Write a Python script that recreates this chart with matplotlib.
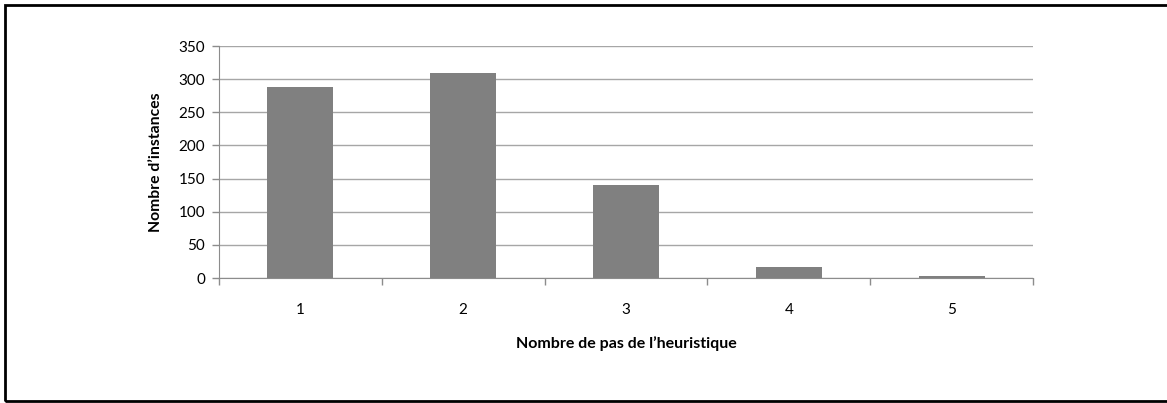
import matplotlib
matplotlib.use("Agg")
import matplotlib.pyplot as plt
from matplotlib.patches import Rectangle
import numpy as np

steps = ["1", "2", "3", "4", "5"]
instances = [288, 309, 141, 17, 3]
y_ticks = [0, 50, 100, 150, 200, 250, 300, 350]

plt.rcParams["font.family"] = ["Lato", "DejaVu Sans"]

W, H = 1167, 403
fig = plt.figure(figsize=(W / 100, H / 100), dpi=100)
ax = fig.add_axes([219 / W, 1 - 278 / H, (1033 - 219) / W, (278 - 46) / H])

x = np.arange(1, len(steps) + 1)
ax.bar(x, instances, width=0.405, color="#808080", zorder=3)

ax.set_xlim(0.5, len(steps) + 0.5)
ax.set_ylim(0, 350)
ax.set_yticks(y_ticks)
ax.yaxis.grid(True, color="#a6a6a6", linewidth=1.0, zorder=0)

# category boundaries carry the tick marks, labels sit at centres
ax.set_xticks(np.arange(0.5, len(steps) + 1, 1.0))
ax.set_xticklabels([])
ax.set_xticks(x, minor=True)
ax.set_xticklabels(steps, minor=True)
ax.tick_params(axis="x", which="major", length=5, color="#8c8c8c", width=1)
ax.tick_params(axis="x", which="minor", length=0, pad=18, labelsize=11)
ax.tick_params(axis="y", length=5, color="#8c8c8c", width=1, pad=5, labelsize=11)

for s in ["top", "right"]:
    ax.spines[s].set_visible(False)
for s in ["left", "bottom"]:
    ax.spines[s].set_color("#8c8c8c")

ax.set_xlabel("Nombre de pas de l\u2019heuristique", fontsize=11.5, fontweight="bold", labelpad=14)
ax.set_ylabel("Nombre d\u2019instances", fontsize=11.3, fontweight="bold", labelpad=11)

fig.patches.append(Rectangle((5 / W, 1 - 401 / H), (W + 5) / W, (401 - 5) / H,
                             transform=fig.transFigure, fill=False,
                             edgecolor="black", linewidth=2, zorder=10))

fig.savefig("out.png", dpi=100)
